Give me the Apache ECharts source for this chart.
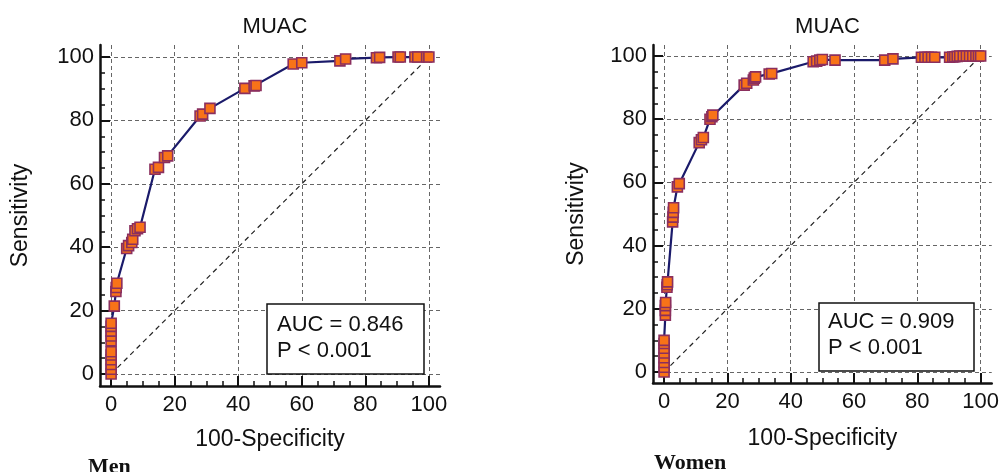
<!DOCTYPE html>
<html>
<head>
<meta charset="utf-8">
<script src="https://cdn.jsdelivr.net/npm/echarts@6/dist/echarts.min.js"></script>
<style>html,body{margin:0;padding:0;background:#fff}#c{width:1002px;height:472px}</style>
</head>
<body>
<div id="c"></div>
<script>
// ---- data ----
var majorTicks = [0, 20, 40, 60, 80, 100];
var minorTicks = [5, 10, 15, 25, 30, 35, 45, 50, 55, 65, 70, 75, 85, 90, 95];
var diagonal = [[0, 0], [100, 100]];
var menRoc = [[0,0],[0,1.5],[0,3],[0,4.5],[0,6],[0,7],[0,10.5],[0,12],[0,13.5],[0,15],[0,16],
  [1.0,21.4],[1.5,26],[1.6,27.3],[1.8,28.6],[4.9,39.6],[5.5,40.5],[6.5,41.5],[6.8,42.5],
  [7.5,45.2],[8.3,45.8],[9.1,46.3],[13.8,64.6],[14.9,65.2],[16.8,68.3],[17.8,68.8],
  [28,81.4],[28.8,82],[31.1,83.8],[42.1,90.1],[45,90.9],[45.6,91],[57.3,97.8],[60,98.2],
  [72,98.8],[73.8,99.4],[83.5,99.8],[84.5,99.9],[90.3,100],[91,100],[95.6,100],[96.5,100],
  [99.3,100],[100,100]];
var womenRoc = [[0,0],[0,1.5],[0,3],[0,4.5],[0,6],[0,7.5],[0,9],[0,10],[0.4,18],[0.4,19.5],
  [0.4,21],[0.5,22],[0.9,26.8],[1,27.6],[1.1,28.5],[2.7,47.5],[2.8,49],[2.9,50.5],[3,52],
  [4.2,58.6],[4.8,59.6],[11.1,72.6],[11.8,73.5],[12.4,74.2],[14.5,80],[15.1,80.8],[15.4,81.3],
  [25.3,90.8],[26.1,91.4],[28.2,92.4],[28.5,93],[28.9,93.4],[33.2,94.3],[34,94.5],[47.1,98.2],
  [48.2,98.4],[49.2,98.7],[50,98.9],[54,98.7],[69.7,98.7],[72.3,99.1],[81.3,99.6],[82.4,99.6],
  [83.4,99.6],[84.5,99.6],[85.5,99.6],[90.2,99.6],[91.2,99.7],[91.8,99.8],[92.6,99.9],[93.4,100],
  [94.5,100],[95.5,100],[96.5,100],[97.5,100],[98.5,100],[99.3,100],[100,100]];
var titles = ['MUAC', 'MUAC'];
var panelLabels = ['Men', 'Women'];
var statTexts = ['AUC = 0.846\nP < 0.001', 'AUC = 0.909\nP < 0.001'];
var xName = '100-Specificity';
var yName = 'Sensitivity';

// ---- chart ----
var FONT = '"Liberation Sans", Arial, sans-serif';
var chart = echarts.init(document.getElementById('c'), null, {renderer: 'canvas'});

var grids = [
  {left: 100, right: 562, top: 45, bottom: 86},
  {left: 653, right: 10, top: 45, bottom: 89}
];
var ranges = [
  {x: [-3.5, 103.5], y: [-3.8, 103.8]},
  {x: [-3.5, 103.5], y: [-3.5, 103.5]}
];
var yNameGap = [68, 65];
var xNameGap = [42, 44];

function axisPair(dim, g) {
  var r = ranges[g][dim];
  var isX = dim === 'x';
  var main = {
    type: 'value', gridIndex: g, min: r[0], max: r[1],
    position: isX ? 'bottom' : 'left',
    name: isX ? xName : yName,
    nameLocation: 'middle',
    nameGap: isX ? xNameGap[g] : yNameGap[g],
    nameTextStyle: {fontFamily: FONT, fontSize: 23, color: '#111'},
    axisLine: {show: true, onZero: false, lineStyle: {color: '#111', width: 2.5}},
    axisTick: {show: true, inside: true, length: 10, customValues: majorTicks, lineStyle: {color: '#111', width: 2}},
    axisLabel: {show: true, customValues: majorTicks, fontFamily: FONT, fontSize: 22, color: '#111', margin: isX ? 8 : 6},
    splitLine: {show: true, lineStyle: {color: '#666', width: 1, type: [4, 3]}}
  };
  var minor = {
    type: 'value', gridIndex: g, min: r[0], max: r[1],
    position: isX ? 'bottom' : 'left',
    axisLine: {show: false, onZero: false},
    axisTick: {show: true, inside: true, length: 5, customValues: minorTicks, lineStyle: {color: '#111', width: 1.5}},
    axisLabel: {show: false},
    splitLine: {show: false}
  };
  return [main, minor];
}

var xAxes = [], yAxes = [];
[0, 1].forEach(function (g) {
  xAxes = xAxes.concat(axisPair('x', g));
  yAxes = yAxes.concat(axisPair('y', g));
});

var series = [];
[menRoc, womenRoc].forEach(function (d, g) {
  series.push({
    type: 'line', xAxisIndex: g * 2, yAxisIndex: g * 2, data: diagonal,
    symbol: 'none', silent: true,
    lineStyle: {color: '#222', width: 1.2, type: [5, 4]}, z: 2
  });
  series.push({
    type: 'line', xAxisIndex: g * 2, yAxisIndex: g * 2, data: d,
    symbol: 'rect', symbolSize: 10, showSymbol: true, showAllSymbol: true,
    lineStyle: {color: '#1a1a6a', width: 2.2},
    itemStyle: {color: '#f87318', borderColor: '#8b2f5e', borderWidth: 1.6},
    z: 3, animation: false
  });
});

var titleCenters = [270, 822.5];
var titleComps = [];
[0, 1].forEach(function (g) {
  titleComps.push({
    text: titles[g], left: titleCenters[g], top: 11, textAlign: 'center',
    textStyle: {fontFamily: FONT, fontSize: 22, fontWeight: 'normal', color: '#111'}
  });
});
var boxes = [
  {left: 267, top: 304, pad: [8, 21, 10, 10]},
  {left: 819, top: 303, pad: [6, 20, 10, 9]}
];
[0, 1].forEach(function (g) {
  titleComps.push({
    text: statTexts[g], left: boxes[g].left, top: boxes[g].top,
    padding: boxes[g].pad, backgroundColor: '#fff', borderColor: '#111', borderWidth: 1.5,
    textStyle: {fontFamily: FONT, fontSize: 22, fontWeight: 'normal', color: '#111', lineHeight: 26},
    z: 10
  });
});
var labelPos = [{left: 88, top: 456}, {left: 654, top: 452}];
[0, 1].forEach(function (g) {
  titleComps.push({
    text: panelLabels[g], left: labelPos[g].left, top: labelPos[g].top, padding: 0,
    textStyle: {fontFamily: '"Liberation Serif", "Times New Roman", serif', fontSize: 22, fontWeight: 'bold', color: '#111'}
  });
});

chart.setOption({
  animation: false,
  backgroundColor: '#fff',
  title: titleComps,
  grid: grids,
  xAxis: xAxes,
  yAxis: yAxes,
  series: series
});
</script>
</body>
</html>
